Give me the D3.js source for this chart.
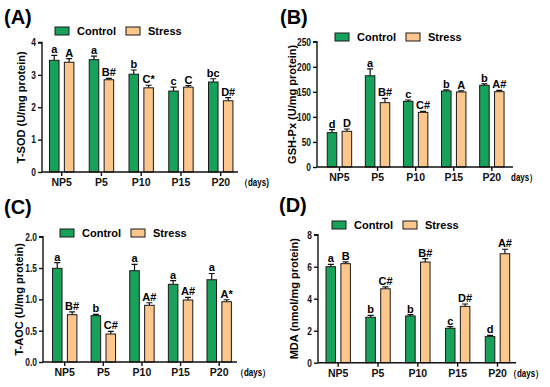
<!DOCTYPE html>
<html>
<head>
<meta charset="utf-8">
<script src="https://cdn.jsdelivr.net/npm/d3@7"></script>
<style>
  body { margin: 0; background: #fff; }
  svg { font-family: "Liberation Sans", Arial, sans-serif; font-weight: bold; }
</style>
</head>
<body>
<svg width="550" height="387"></svg>
<script>
'use strict';

// categories shared by all four panels
var categories = ['NP5', 'P5', 'P10', 'P15', 'P20'];
var groups = ['Control', 'Stress'];

// (A) T-SOD
var sodControl = [3.45, 3.47, 3.02, 2.50, 2.78];
var sodControlErr = [0.15, 0.11, 0.13, 0.12, 0.10];
var sodStress = [3.39, 2.85, 2.60, 2.62, 2.20];
var sodStressErr = [0.11, 0.04, 0.08, 0.05, 0.10];
var sodControlMarks = ['a', 'a', 'b', 'c', 'bc'];
var sodStressMarks = ['A', 'B#', 'C*', 'C', 'D#'];
var sodTicks = [0, 1, 2, 3, 4];

// (B) GSH-Px
var gshControl = [68.5, 182, 131, 151.7, 163];
var gshControlErr = [6, 13.6, 2.7, 2, 3];
var gshStress = [71.2, 128.4, 109, 149.7, 150.3];
var gshStressErr = [4.6, 8.6, 2, 2, 2.7];
var gshControlMarks = ['d', 'a', 'c', 'b', 'b'];
var gshStressMarks = ['D', 'B#', 'C#', 'A', 'A#'];
var gshTicks = [0, 50, 100, 150, 200, 250];

// (C) T-AOC
var aocControl = [1.495, 0.74, 1.457, 1.24, 1.313];
var aocControlErr = [0.09, 0.02, 0.10, 0.06, 0.10];
var aocStress = [0.755, 0.447, 0.905, 0.99, 0.962];
var aocStressErr = [0.045, 0.043, 0.041, 0.04, 0.032];
var aocControlMarks = ['a', 'b', 'a', 'a', 'a'];
var aocStressMarks = ['B#', 'C#', 'A#', 'A#', 'A*'];
var aocTicks = [0, 0.5, 1.0, 1.5, 2.0];

// (D) MDA
var mdaControl = [6.0, 2.84, 2.92, 2.15, 1.63];
var mdaControlErr = [0.15, 0.12, 0.08, 0.10, 0.08];
var mdaStress = [6.19, 4.62, 6.29, 3.52, 6.81];
var mdaStressErr = [0.11, 0.12, 0.21, 0.15, 0.28];
var mdaControlMarks = ['a', 'b', 'b', 'c', 'd'];
var mdaStressMarks = ['B', 'C#', 'B#', 'D#', 'A#'];
var mdaTicks = [0, 2, 4, 6, 8];

var COLORS = { Control: '#18a15b', Stress: '#fcc68c' };
var SQUEEZE = 0.8;   // y tick labels in the figure are condensed
var svg = d3.select('svg');

function drawPanel(p) {
  var g = svg.append('g');

  var x0 = d3.scaleBand().domain(categories).range([p.bandL, p.bandR]);
  var x1 = d3.scaleBand().domain(groups).range([-12.2, 12.2]).paddingInner(0.36);
  var y = d3.scaleLinear().domain(p.domain).range([p.bottom, p.top]);

  var rows = [];
  categories.forEach(function (c, i) {
    rows.push({ cat: c, grp: 'Control', v: p.control[i], e: p.controlErr[i], m: p.controlMarks[i] });
    rows.push({ cat: c, grp: 'Stress', v: p.stress[i], e: p.stressErr[i], m: p.stressMarks[i] });
  });
  function cx(d) { return x0(d.cat) + x0.bandwidth() / 2 + x1(d.grp) + x1.bandwidth() / 2; }

  // error bars (upper only)
  g.selectAll('.err').data(rows).enter().append('path')
    .attr('d', function (d) {
      var xc = cx(d), yt = y(d.v + d.e);
      return 'M' + xc + ',' + y(d.v) + 'V' + yt + 'M' + (xc - 3) + ',' + yt + 'H' + (xc + 3);
    })
    .attr('stroke', '#111').attr('stroke-width', 1.2).attr('fill', 'none');

  g.selectAll('.bar').data(rows).enter().append('rect')
    .attr('x', function (d) { return x0(d.cat) + x0.bandwidth() / 2 + x1(d.grp); })
    .attr('y', function (d) { return y(d.v); })
    .attr('width', x1.bandwidth())
    .attr('height', function (d) { return p.bottom - y(d.v); })
    .attr('fill', function (d) { return COLORS[d.grp]; })
    .attr('stroke', '#1a1a1a').attr('stroke-width', 1);

  g.selectAll('.mark').data(rows).enter().append('text')
    .attr('x', cx)
    .attr('y', function (d) { return y(d.v + d.e) - 2; })
    .attr('text-anchor', 'middle')
    .attr('font-size', 11)
    .text(function (d) { return d.m; });

  // axes
  var yAxis = d3.axisLeft(y).tickValues(p.ticks).tickSize(4).tickPadding(2)
    .tickFormat(d3.format(p.fmt));
  var ya = g.append('g').attr('transform', 'translate(' + p.axisL + ',0)').call(yAxis);
  ya.select('.domain').attr('d', 'M-4,' + p.top + 'H0V' + p.bottom);

  var xAxis = d3.axisBottom(x0).tickSize(4).tickPadding(3);
  var xa = g.append('g').attr('transform', 'translate(0,' + p.bottom + ')').call(xAxis);
  xa.select('.domain').attr('d', 'M' + p.axisL + ',0H' + p.axisR);

  ya.attr('font-family', null).attr('font-size', null);
  xa.attr('font-family', null).attr('font-size', null);
  g.selectAll('.domain, .tick line').attr('stroke', '#111').attr('stroke-width', 1.4);
  g.selectAll('.tick text').attr('font-size', 10.5).attr('fill', '#111');
  ya.selectAll('.tick text')
    .attr('x', -6 / SQUEEZE)
    .attr('transform', 'scale(' + SQUEEZE + ',1)');

  g.append('text')
    .attr('transform', 'translate(' + p.daysX + ',' + (p.bottom + 14) + ') scale(0.8,1)')
    .attr('font-size', 10)
    .text(p.days);

  // y axis title
  g.append('text')
    .attr('transform', 'translate(' + p.titleX + ',' + ((p.top + p.bottom) / 2) + ') rotate(-90)')
    .attr('text-anchor', 'middle')
    .attr('font-size', 11)
    .text(p.title);

  // panel letter
  g.append('text').attr('x', p.letterX).attr('y', p.letterY)
    .attr('font-size', 20).text(p.letter);

  // legend
  var lg = g.append('g').attr('transform', 'translate(' + p.legX + ',' + p.legY + ')');
  groups.forEach(function (k, i) {
    var off = i * 71;
    lg.append('rect').attr('x', off).attr('y', -4).attr('width', 14).attr('height', 8)
      .attr('fill', COLORS[k]).attr('stroke', '#1a1a1a').attr('stroke-width', 1);
    lg.append('text').attr('x', off + 22).attr('y', 4).attr('font-size', 11).text(k);
  });
}

drawPanel({
  letter: '(A)', letterX: 4, letterY: 24,
  title: 'T-SOD (U/mg protein)', titleX: 25,
  control: sodControl, controlErr: sodControlErr, stress: sodStress, stressErr: sodStressErr,
  controlMarks: sodControlMarks, stressMarks: sodStressMarks,
  domain: [0, 4], ticks: sodTicks, fmt: 'd',
  top: 42.5, bottom: 172, axisL: 42, axisR: 238, bandL: 41.8, bandR: 240.6,
  days: '（days)', daysX: 240,
  legX: 55, legY: 31
});

drawPanel({
  letter: '(B)', letterX: 280, letterY: 24,
  title: 'GSH-Px (U/mg protein)', titleX: 296,
  control: gshControl, controlErr: gshControlErr, stress: gshStress, stressErr: gshStressErr,
  controlMarks: gshControlMarks, stressMarks: gshStressMarks,
  domain: [0, 250], ticks: gshTicks, fmt: 'd',
  top: 41.7, bottom: 167, axisL: 317, axisR: 513, bandL: 320.4, bandR: 510.9,
  days: 'days）', daysX: 511,
  legX: 335, legY: 37
});

drawPanel({
  letter: '(C)', letterX: 4, letterY: 214,
  title: 'T-AOC (U/mg protein)', titleX: 23,
  control: aocControl, controlErr: aocControlErr, stress: aocStress, stressErr: aocStressErr,
  controlMarks: aocControlMarks, stressMarks: aocStressMarks,
  domain: [0, 2], ticks: aocTicks, fmt: '.1f',
  top: 236.7, bottom: 362, axisL: 43, axisR: 237, bandL: 45.4, bandR: 238.5,
  days: '（days）', daysX: 236,
  legX: 60, legY: 233
});

drawPanel({
  letter: '(D)', letterX: 279, letterY: 212,
  title: 'MDA (nmol/mg protein)', titleX: 298,
  control: mdaControl, controlErr: mdaControlErr, stress: mdaStress, stressErr: mdaStressErr,
  controlMarks: mdaControlMarks, stressMarks: mdaStressMarks,
  domain: [0, 8], ticks: mdaTicks, fmt: 'd',
  top: 234.7, bottom: 362.7, axisL: 318, axisR: 516, bandL: 318.3, bandR: 517.4,
  days: '（days）', daysX: 509,
  legX: 332, legY: 225
});
</script>
</body>
</html>
